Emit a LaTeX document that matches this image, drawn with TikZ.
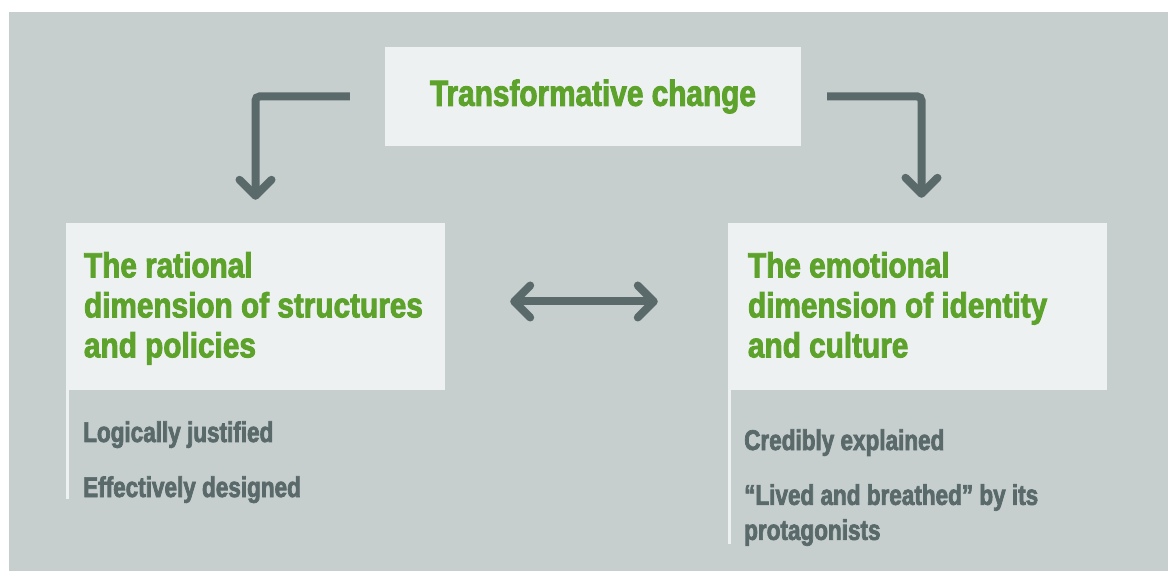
\documentclass[tikz,border=0pt]{standalone}
\usepackage{fontspec}
\setmainfont{Liberation Sans}
\newfontfamily\condtitle{Liberation Sans}[FakeStretch=0.82,FakeBold=2.5]
\newfontfamily\condhead{Liberation Sans}[FakeStretch=0.85,FakeBold=2.5]
\newfontfamily\conditem{Liberation Sans}[FakeStretch=0.79,FakeBold=2.5]
\usetikzlibrary{arrows.meta}
\definecolor{bgc}{HTML}{C6CFCE}
\definecolor{panelc}{HTML}{EDF1F2}
\definecolor{leaf}{HTML}{5DA22A}
\definecolor{slate}{HTML}{5A6A6A}
\tikzset{
  panel/.style={fill=panelc, draw=none, inner sep=0pt},
  headline/.style={text=leaf, font=\condhead\bfseries\fontsize{35}{40}\selectfont, inner sep=0pt, align=left},
  itemtext/.style={text=slate, font=\conditem\bfseries\fontsize{28.5}{35}\selectfont, inner sep=0pt, align=left},
  barb/.tip={Straight Barb[length=16pt,width=32pt,round]},
  conn/.style={draw=slate, line width=8pt, rounded corners=4pt},
  sideline/.style={draw=panelc, line width=3pt}
}
\begin{document}
\begin{tikzpicture}[x=1pt,y=1pt]
\useasboundingbox (0,0) rectangle (1168,571);
\fill[bgc] (9,0) rectangle (1168,559);

% title and the two dimension panels
\node[panel, minimum width=416pt, minimum height=99pt, text=leaf,
      font=\condtitle\bfseries\fontsize{36.3}{40}\selectfont] (top) at (593,474.5) {Transformative change};
\node[panel, minimum width=379pt, minimum height=167pt] (left) at (255.5,264.5) {};
\node[panel, minimum width=379pt, minimum height=167pt] (right) at (917.5,264.5) {};

\node[headline, anchor=north west] (lefthead) at ([xshift=18pt,yshift=-29pt]left.north west)
  {The rational\\dimension of structures\\and policies};
\node[headline, anchor=north west] (righthead) at ([xshift=20pt,yshift=-29pt]right.north west)
  {The emotional\\dimension of identity\\and culture};

% thin rules below the panels
\coordinate (lr0) at ([xshift=2pt]left.south west);
\coordinate (lr1) at ([xshift=2pt,yshift=-109pt]left.south west);
\coordinate (rr0) at ([xshift=2pt]right.south west);
\coordinate (rr1) at ([xshift=2pt,yshift=-154pt]right.south west);
\draw[sideline] (lr0) -- (lr1);
\draw[sideline] (rr0) -- (rr1);

% qualities of each dimension
\node[itemtext, anchor=base west] (l1) at (83,129) {Logically justified};
\node[itemtext, anchor=base west] (l2) at (83,74) {Effectively designed};
\node[itemtext, anchor=base west] (r1) at (744,121) {Credibly explained};
\node[itemtext, anchor=north west] (r2) at (744,87) {“Lived and breathed” by its\\protagonists};

% connectors
\coordinate (ls) at ([xshift=-35pt]top.west);
\coordinate (lt) at ([yshift=23pt]left.north);
\coordinate (rs) at ([xshift=26pt]top.east);
\coordinate (rt) at ([xshift=4pt,yshift=25pt]right.north);
\draw[conn, -barb] (ls) -| (lt);
\draw[conn, -barb] (rs) -| (rt);
\coordinate (da) at ([xshift=65pt,yshift=5pt]left.east);
\coordinate (db) at ([xshift=-70pt,yshift=5pt]right.west);
\draw[conn, barb-barb] (da) -- (db);
\end{tikzpicture}
\end{document}
